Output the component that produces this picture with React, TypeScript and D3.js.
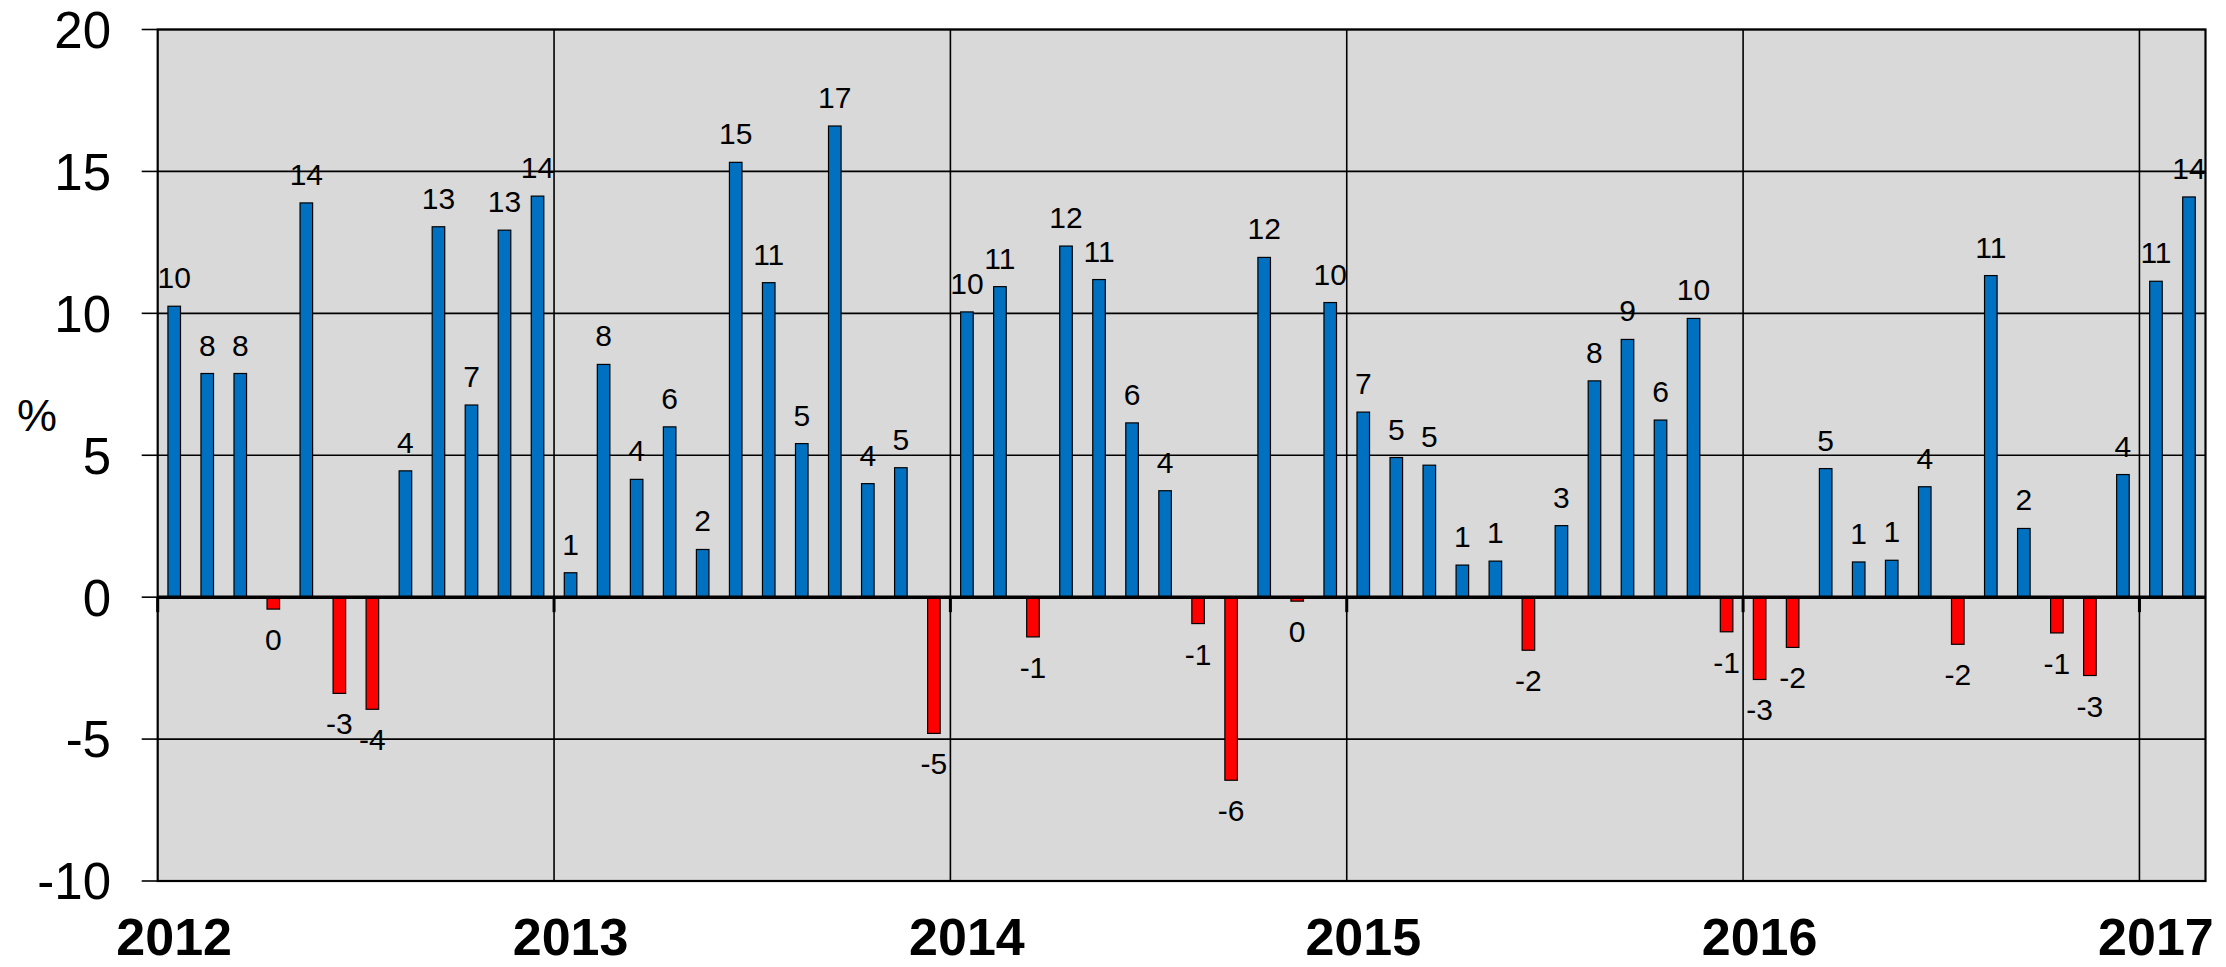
import React from 'react';
import * as d3 from 'd3';

// monthly change, %
const years = ['2012', '2013', '2014', '2015', '2016', '2017'];
const values2012 = [10.25, 7.88, 7.88, -0.42, 13.89, -3.39, -3.95, 4.45, 13.05, 6.77, 12.93, 14.13];
const values2013 = [0.86, 8.2, 4.15, 6.0, 1.68, 15.32, 11.08, 5.41, 16.6, 4.0, 4.56, -4.8];
const values2014 = [10.05, 10.94, -1.4, 12.37, 11.19, 6.14, 3.75, -0.93, -6.45, 11.97, -0.14, 10.38];
const values2015 = [6.52, 4.92, 4.65, 1.13, 1.27, -1.87, 2.52, 7.62, 9.08, 6.24, 9.82, -1.22];
const values2016 = [-2.9, -1.77, 4.53, 1.24, 1.3, 3.89, -1.66, 11.33, 2.42, -1.26, -2.76, 4.32];
const values2017 = [11.13, 14.1];
const yTicks = [-10, -5, 0, 5, 10, 15, 20];

const W = 2226;
const H = 967;
const FONT = '"Liberation Sans", Arial, sans-serif';

const series = [values2012, values2013, values2014, values2015, values2016, values2017];
const data = series.flatMap((vals, yi) =>
  vals.map((v, m) => ({ key: `${years[yi]}-${m + 1}`, year: years[yi], month: m, value: v }))
);

const App: React.FC = () => {
  const left = 157.7;
  const right = 2205.5;
  const top = 29.5;
  const bottom = 881;

  const x = d3.scaleBand<string>().domain(data.map((d) => d.key)).range([left, right]).padding(0);
  const y = d3.scaleLinear().domain([-10, 20]).range([bottom, top]);
  const bw = x.bandwidth();
  const barW = bw * 0.38;
  const y0 = y(0);

  // january of each year: year boundary lines and labels
  const janKeys = years.map((yr) => `${yr}-1`);

  return (
    <svg width={W} height={H} style={{ position: 'absolute', left: 0, top: 0 }} fontFamily={FONT}>
      <rect x={0} y={0} width={W} height={H} fill="#ffffff" />
      <rect x={left} y={top} width={right - left} height={bottom - top} fill="#d9d9d9" />

      {/* horizontal grid */}
      {yTicks.map((t) => (
        <g key={t}>
          <line x1={left} x2={right} y1={y(t)} y2={y(t)} stroke="#000" strokeWidth={1.6} />
          <line x1={left - 16} x2={left} y1={y(t)} y2={y(t)} stroke="#000" strokeWidth={1.6} />
          <text x={111} y={y(t)} dy="0.36em" textAnchor="end" fontSize={51} fill="#000">
            {t}
          </text>
        </g>
      ))}

      {/* year boundaries */}
      {janKeys.slice(1).map((k) => (
        <line key={k} x1={x(k)} x2={x(k)} y1={top} y2={bottom} stroke="#000" strokeWidth={1.6} />
      ))}

      {/* bars */}
      {data.map((d) => {
        const cx = (x(d.key) || 0) + bw / 2;
        const yv = y(d.value);
        return (
          <rect
            key={d.key}
            x={cx - barW / 2}
            y={Math.min(yv, y0)}
            width={barW}
            height={Math.abs(yv - y0)}
            fill={d.value >= 0 ? '#0070c0' : '#ff0000'}
            stroke="#000"
            strokeWidth={1.2}
          />
        );
      })}

      {/* value labels */}
      {data.map((d) => {
        const cx = (x(d.key) || 0) + bw / 2;
        const yv = y(d.value);
        const ly = d.value >= 0 ? yv - 18 : yv + 41;
        return (
          <text key={d.key} x={cx} y={ly} textAnchor="middle" fontSize={30} fill="#000">
            {Math.round(d.value) || 0}
          </text>
        );
      })}

      {/* plot frame */}
      <rect x={left} y={top} width={right - left} height={bottom - top} fill="none" stroke="#000" strokeWidth={2.2} />

      {/* zero axis */}
      <line x1={left} x2={right} y1={y0} y2={y0} stroke="#000" strokeWidth={3.5} />
      {janKeys.map((k) => (
        <line key={k} x1={x(k)} x2={x(k)} y1={y0} y2={y0 + 15} stroke="#000" strokeWidth={3} />
      ))}

      {/* year labels */}
      {janKeys.map((k, i) => (
        <text
          key={k}
          x={Math.min((x(k) || 0) + bw / 2, W - 70)}
          y={955}
          textAnchor="middle"
          fontSize={52}
          fontWeight="bold"
          fill="#000"
        >
          {years[i]}
        </text>
      ))}

      <text x={37} y={431} textAnchor="middle" fontSize={45} fill="#000">
        %
      </text>
    </svg>
  );
};

export default App;
